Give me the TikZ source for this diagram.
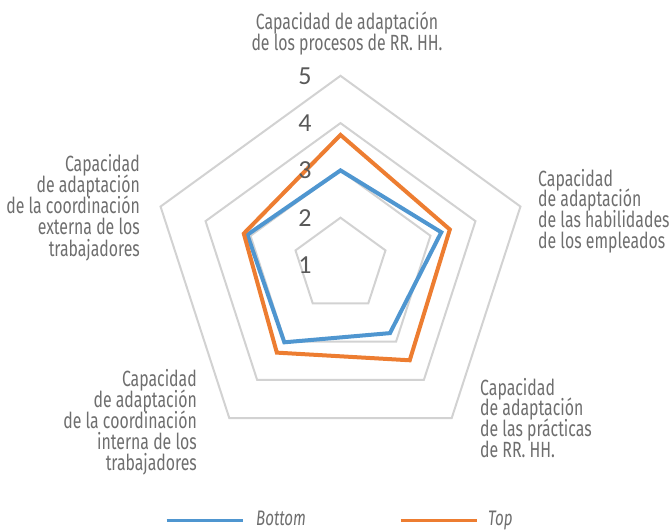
\documentclass[tikz,border=0pt]{standalone}
\usepackage{fontspec}
\setmainfont{Fira Sans}[FakeStretch=0.72]
\newfontfamily\numfont{Carlito}
\definecolor{gridgray}{RGB}{210,210,210}
\definecolor{txtgray}{RGB}{110,110,110}
\definecolor{numgray}{RGB}{89,89,89}
\definecolor{bluec}{RGB}{79,150,208}
\definecolor{orangec}{RGB}{237,125,49}
\tikzset{
  grid/.style={draw=gridgray, line width=2pt, line join=miter},
  series/.style={line width=4pt, line join=miter},
  lbl/.style={font=\fontsize{22}{20.7}\selectfont, text=txtgray, inner sep=0pt},
  tick/.style={font=\numfont\fontsize{26}{26}\selectfont, text=numgray, inner sep=0pt},
  legline/.style={line width=3pt}
}
\begin{document}
\begin{tikzpicture}[x=1pt,y=-1pt]
\useasboundingbox (0,0) rectangle (670,532);
\def\u{47.3}
\begin{scope}[shift={(340.5,265)}, yscale=-1]
  \foreach \k in {1,2,3,4}{
    \draw[grid] (90:\k*\u) -- (18:\k*\u) -- (-54:\k*\u) -- (-126:\k*\u) -- (162:\k*\u) -- cycle;
  }
  % Bottom series
  \coordinate (b1) at (90:2.00*\u);
  \coordinate (b2) at (18:2.24*\u);
  \coordinate (b3) at (-54:1.78*\u);
  \coordinate (b4) at (-126:2.02*\u);
  \coordinate (b5) at (162:2.07*\u);
  % Top series
  \coordinate (t1) at (90:2.75*\u);
  \coordinate (t2) at (18:2.43*\u);
  \coordinate (t3) at (-54:2.49*\u);
  \coordinate (t4) at (-126:2.29*\u);
  \coordinate (t5) at (162:2.15*\u);
  \draw[series, bluec] (b1) -- (b2) -- (b3) -- (b4) -- (b5) -- cycle;
  \draw[series, orangec] (t1) -- (t2) -- (t3) -- (t4) -- (t5) -- cycle;
\end{scope}
% tick labels
\foreach \k in {1,...,5}{
  \node[tick, name=tick\k] at (305, {265-(\k-1)*\u}) {\k};
}
% axis labels
\foreach \t [count=\i] in {Capacidad de adaptación, de los procesos de RR. HH.}
  \node[lbl, anchor=base, name=top\i] at (347, {30+(\i-1)*21}) {\t};
\foreach \t [count=\i] in {Capacidad, de adaptación, de las habilidades, de los empleados}
  \node[lbl, anchor=base west, name=rt\i] at (538, {186+(\i-1)*20.7}) {\t};
\foreach \t [count=\i] in {Capacidad, de adaptación, de las prácticas, de RR. HH.}
  \node[lbl, anchor=base west, name=rb\i] at (480, {395+(\i-1)*20.7}) {\t};
\foreach \t [count=\i] in {Capacidad, de adaptación, de la coordinación, interna de los, trabajadores}
  \node[lbl, anchor=base east, name=lb\i] at (197, {386+(\i-1)*21}) {\t};
\foreach \t [count=\i] in {Capacidad, de adaptación, de la coordinación, externa de los, trabajadores}
  \node[lbl, anchor=base east, name=lt\i] at (140, {172+(\i-1)*21}) {\t};
% legend
\coordinate (lb0) at (166.7,520);
\coordinate (lb1) at (242.7,520);
\coordinate (lo0) at (400.7,520);
\coordinate (lo1) at (476.5,520);
\draw[legline, bluec] (lb0) -- (lb1);
\draw[legline, orangec] (lo0) -- (lo1);
\node[lbl, font=\fontsize{21}{21}\selectfont\itshape, anchor=base west, name=legB] at (256,525) {Bottom};
\node[lbl, font=\fontsize{21}{21}\selectfont\itshape, anchor=base west, name=legT] at (488,525) {Top};
\end{tikzpicture}
\end{document}
